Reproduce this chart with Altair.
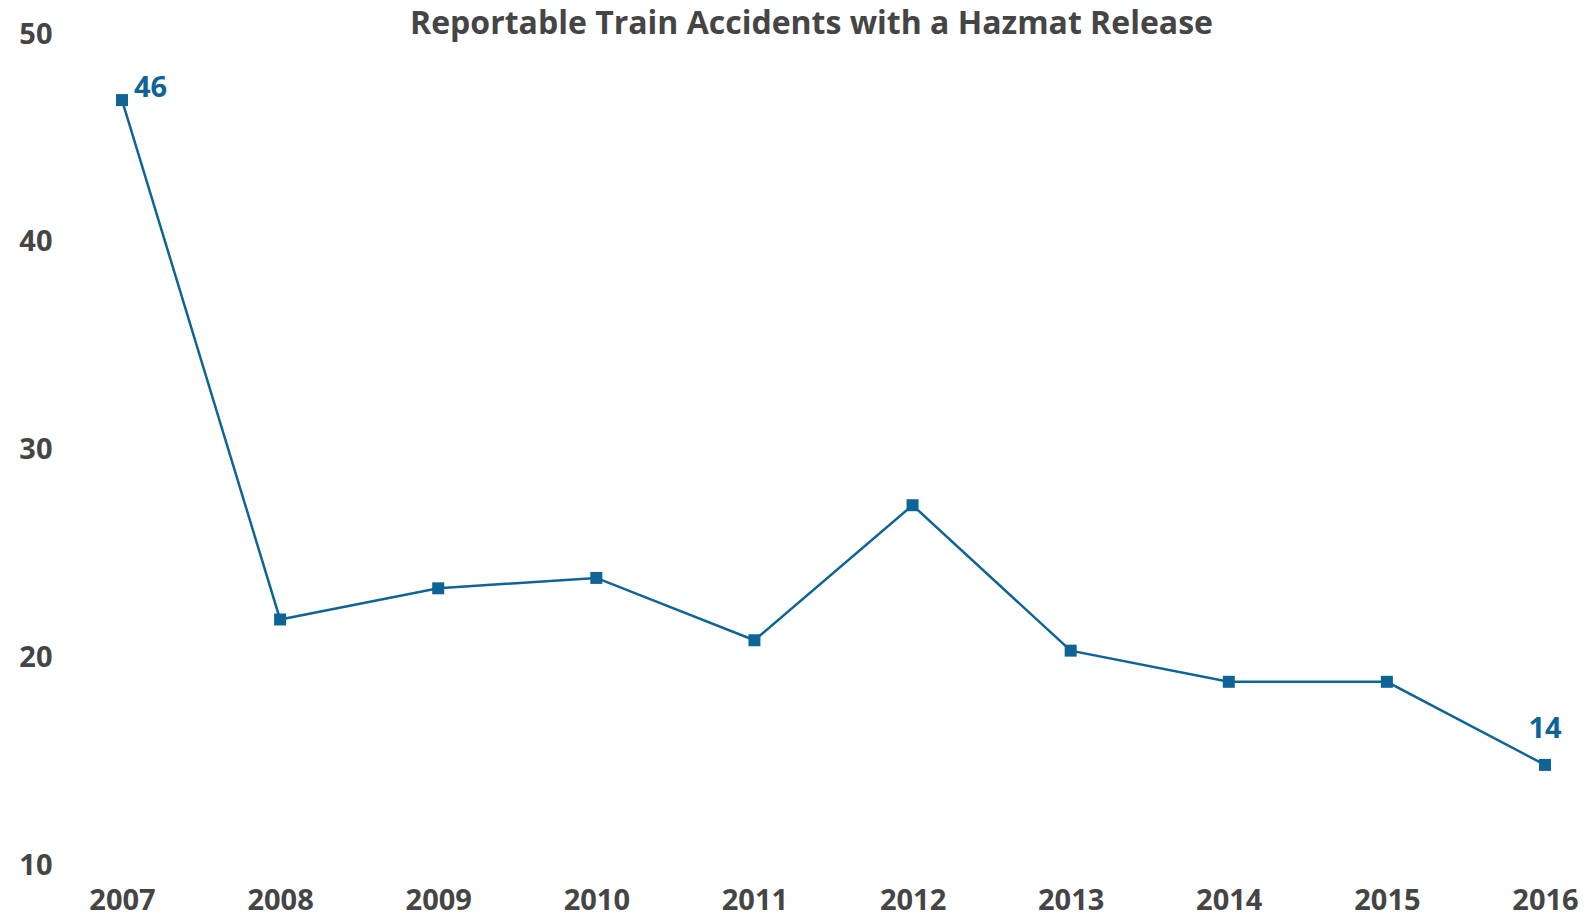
import altair as alt
import pandas as pd

years = ["2007", "2008", "2009", "2010", "2011", "2012", "2013", "2014", "2015", "2016"]
accidents = [46, 21, 22.5, 23, 20, 26.5, 19.5, 18, 18, 14]
y_ticks = [10, 20, 30, 40, 50]

df = pd.DataFrame({"year": years, "value": accidents})
df["label"] = df["value"].map(lambda v: f"{v:.0f}")

BLUE = "#0f6496"
GRAY = "#454545"
FONT = "Open Sans"
FS = 29

x = alt.X("year:O", title=None,
          scale=alt.Scale(padding=0),
          axis=alt.Axis(labelAngle=0, domain=False, ticks=False, tickSize=0, grid=False,
                        labelFont=FONT, labelFontSize=FS, labelFontWeight="bold",
                        labelColor=GRAY, labelPadding=38, labelBaseline="top"))
y = alt.Y("value:Q", title=None,
          scale=alt.Scale(domain=[10, 50], nice=False, zero=False),
          axis=alt.Axis(values=y_ticks, domain=False, ticks=False, tickSize=0, grid=False,
                        labelFont=FONT, labelFontSize=FS, labelFontWeight="bold",
                        labelColor=GRAY, labelPadding=70, labelAlign="right",
                        labelBaseline="middle", labelOffset=17))

base = alt.Chart(df)

line = base.mark_line(color=BLUE, strokeWidth=2.5).encode(x=x, y=y)
points = base.mark_point(shape="square", filled=True, opacity=1, size=144, color=BLUE).encode(x=x, y=y)

first_label = base.transform_filter(alt.datum.year == "2007").mark_text(
    align="left", baseline="alphabetic", dx=12, dy=-3,
    font=FONT, fontSize=FS, fontWeight="bold", color=BLUE
).encode(x=x, y=y, text="label:N")

last_label = base.transform_filter(alt.datum.year == "2016").mark_text(
    align="center", baseline="alphabetic", dy=-27,
    font=FONT, fontSize=FS, fontWeight="bold", color=BLUE
).encode(x=x, y=y, text="label:N")

chart = alt.layer(line, points, first_label, last_label).properties(
    width=1423,
    height=831,
    autosize=alt.AutoSizeParams(type="none"),
    padding={"left": 114, "top": 9, "right": 34, "bottom": 64},
    title=alt.TitleParams(
        "Reportable Train Accidents with a Hazmat Release",
        font=FONT, fontSize=32, fontWeight="bold", color=GRAY,
        anchor="middle", frame="group", offset=-24, dx=-22,
    ),
).configure(background="white").configure_view(strokeWidth=0)

chart.save("out.html", embed_options={"renderer": "svg", "actions": False})
